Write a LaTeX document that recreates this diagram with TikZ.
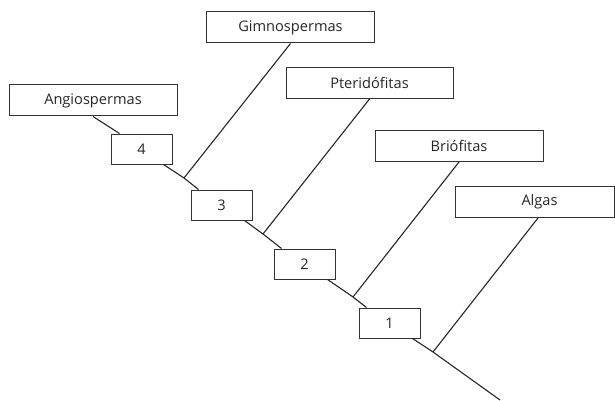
\documentclass[tikz,border=0pt]{standalone}
\usepackage{fontspec}
\setmainfont{Open Sans}
\begin{document}
\begin{tikzpicture}[x=1pt,y=-1pt,
  lbl/.style={draw=black!80,line width=1pt,minimum height=31pt,inner sep=0pt,text=black!85,font=\fontsize{14.6}{16}\selectfont},
  num/.style={lbl,minimum width=61pt,minimum height=30pt},
  ln/.style={draw=black!85,line width=1.1pt}]
\useasboundingbox (0,0) rectangle (615,401);
\node[lbl,minimum width=168pt] (ang) at (93,100.5) {Angiospermas};
\node[lbl,minimum width=168pt] (gim) at (290.5,27.5) {Gimnospermas};
\node[lbl,minimum width=167pt] (pte) at (369.5,83) {Pteridófitas};
\node[lbl,minimum width=168pt] (bri) at (459,146) {Briófitas};
\node[lbl,minimum width=159pt,text width=159pt,align=center] (alg) at (534.5,202) {\hspace*{10pt}Algas};
\node[num] (b4) at (141.5,149) {4};
\node[num] (b3) at (221.5,205) {3};
\node[num] (b2) at (304.5,264) {2};
\node[num] (b1) at (389.5,323) {1};
\coordinate (j3) at (184,178);
\coordinate (j2) at (263,234);
\coordinate (j1) at (353,297);
\coordinate (j0) at (433,352);
\coordinate (root) at (500,400);
\draw[ln] (ang.south) -- ([xshift=9pt]b4.north west);
\draw[ln] ([xshift=-9pt]b4.south east) -- (j3) -- ([xshift=8pt]b3.north west);
\draw[ln] ([xshift=-8pt]b3.south east) -- (j2) -- ([xshift=8pt]b2.north west);
\draw[ln] ([xshift=-8pt]b2.south east) -- (j1) -- ([xshift=8pt]b1.north west);
\draw[ln] ([xshift=-8pt]b1.south east) -- (j0) -- (root);
\draw[ln] (gim.south) -- (j3);
\draw[ln] (pte.south) -- (j2);
\draw[ln] (bri.south) -- (j1);
\draw[ln] ([xshift=3.5pt]alg.south) -- (j0);
\end{tikzpicture}
\end{document}
